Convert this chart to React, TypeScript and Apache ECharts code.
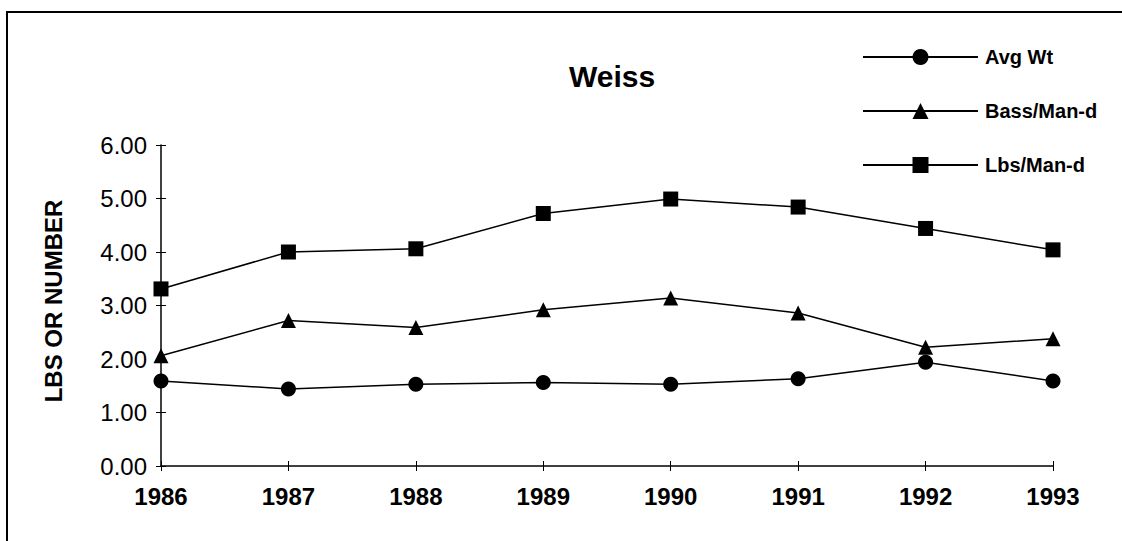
import React, { useEffect, useRef } from "react";
import * as echarts from "echarts";

const years = ["1986", "1987", "1988", "1989", "1990", "1991", "1992", "1993"];
const avgWt = [1.59, 1.44, 1.53, 1.56, 1.53, 1.63, 1.94, 1.59];
const bassManD = [2.06, 2.72, 2.59, 2.92, 3.14, 2.86, 2.22, 2.38];
const lbsManD = [3.31, 4.0, 4.06, 4.72, 4.99, 4.84, 4.44, 4.04];
const seriesNames = ["Avg Wt", "Bass/Man-d", "Lbs/Man-d"];
const seriesSymbols = ["circle", "triangle", "rect"];

const FONT = "Liberation Sans, Arial, sans-serif";

export default function App() {
  const ref = useRef<HTMLDivElement>(null);
  useEffect(() => {
    if (!ref.current) return;
    const chart = echarts.init(ref.current, null, { renderer: "svg" });
    const datasets = [avgWt, bassManD, lbsManD];
    const grid = { left: 161, right: 69, top: 145, bottom: 75 };
    chart.setOption({
      animation: false,
      backgroundColor: "#ffffff",
      title: {
        text: "Weiss",
        left: 607,
        top: 56,
        textAlign: "center",
        textStyle: { fontFamily: FONT, fontSize: 30, fontWeight: "bold", color: "#000" },
      },
      legend: {
        orient: "vertical",
        left: 857,
        top: 42,
        itemWidth: 115,
        itemHeight: 20,
        itemGap: 34,
        data: seriesNames,
        textStyle: { fontFamily: FONT, fontSize: 20, fontWeight: "bold", color: "#000", padding: [0, 0, 0, 2] },
      },
      grid,
      xAxis: [
        {
          type: "category",
          data: years,
          boundaryGap: false,
          axisLine: { lineStyle: { color: "#000", width: 1.5 } },
          axisTick: { show: true, length: 5, lineStyle: { color: "#000" } },
          axisLabel: { margin: 18, fontFamily: FONT, fontSize: 24, fontWeight: "bold", color: "#000" },
          splitLine: { show: false },
        },
        {
          type: "category",
          data: years,
          boundaryGap: false,
          position: "bottom",
          axisLine: { show: false },
          axisTick: { show: true, inside: true, length: 5, lineStyle: { color: "#000" } },
          axisLabel: { show: false },
          splitLine: { show: false },
        },
      ],
      yAxis: [
        {
          type: "value",
          min: 0,
          max: 6,
          interval: 1,
          axisLine: { show: true, lineStyle: { color: "#000", width: 1.5 } },
          axisTick: { show: true, length: 5, lineStyle: { color: "#000" } },
          axisLabel: {
            margin: 14,
            fontFamily: FONT,
            fontSize: 24,
            color: "#000",
            formatter: (v: number) => v.toFixed(2),
          },
          splitLine: { show: false },
        },
        {
          type: "value",
          min: 0,
          max: 6,
          interval: 1,
          position: "left",
          axisLine: { show: false },
          axisTick: { show: true, inside: true, length: 5, lineStyle: { color: "#000" } },
          axisLabel: { show: false },
          splitLine: { show: false },
        },
      ],
      graphic: [
        {
          type: "rect",
          shape: { x: 7, y: 12, width: 1300, height: 700 },
          style: { fill: "none", stroke: "#000", lineWidth: 2 },
          silent: true,
        },
        {
          type: "text",
          x: 53,
          y: 301,
          rotation: Math.PI / 2,
          style: {
            text: "LBS OR NUMBER",
            fontFamily: FONT,
            fontSize: 24,
            fontWeight: "bold",
            fill: "#000",
            align: "center",
            verticalAlign: "middle",
          },
        },
      ],
      series: datasets.map((d, i) => ({
        name: seriesNames[i],
        type: "line",
        data: d,
        symbol: seriesSymbols[i],
        symbolSize: 15,
        showAllSymbol: true,
        lineStyle: { color: "#000", width: 1.5 },
        itemStyle: { color: "#000" },
        z: 3 + i,
      })),
    });
    return () => chart.dispose();
  }, []);
  return (
    <div
      ref={ref}
      style={{ position: "fixed", left: 0, top: 0, width: 1122, height: 541 }}
    />
  );
}
